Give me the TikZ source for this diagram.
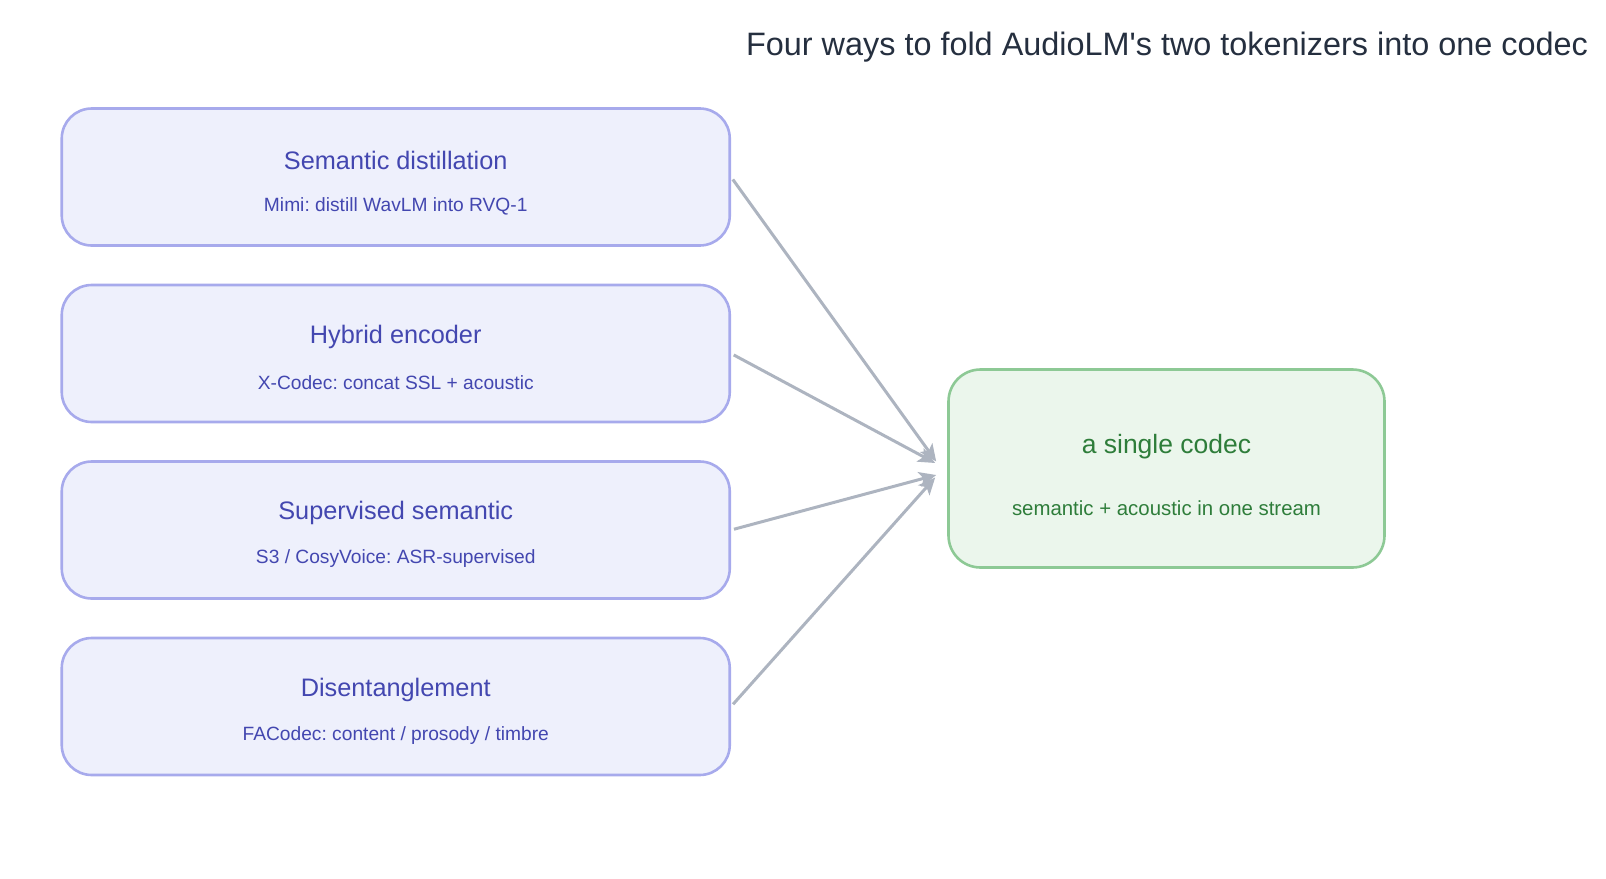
\documentclass[tikz,border=0pt]{standalone}
\usepackage{fontspec}
\setmainfont{Liberation Sans}[Ligatures=TeXOff]
\usetikzlibrary{arrows.meta}
\definecolor{bfill}{HTML}{EEF0FC}
\definecolor{bline}{HTML}{A7AAEC}
\definecolor{btext}{HTML}{4347B0}
\definecolor{gfill}{HTML}{EBF6EC}
\definecolor{gline}{HTML}{8DC995}
\definecolor{gtext}{HTML}{2E7D3A}
\definecolor{arr}{HTML}{ADB4C0}
\definecolor{ttl}{HTML}{252F3F}
\frenchspacing
\tikzset{
  srcbox/.style={draw=bline, fill=bfill, line width=2.6pt, rounded corners=30pt, minimum width=668pt, minimum height=137pt, inner sep=0pt},
  dstbox/.style={draw=gline, fill=gfill, line width=2.6pt, rounded corners=32pt, minimum width=436pt, minimum height=198pt, inner sep=0pt},
  btitle/.style={text=btext, font=\fontsize{25.3}{28}\selectfont, inner sep=0pt},
  bsub/.style={text=btext, font=\fontsize{19.2}{22}\selectfont, inner sep=0pt},
  gtitle/.style={text=gtext, font=\fontsize{26.5}{30}\selectfont, inner sep=0pt},
  gsub/.style={text=gtext, font=\fontsize{20.4}{24}\selectfont, inner sep=0pt},
  conn/.style={draw=arr, line width=3pt, -{Stealth[length=17pt,width=15pt,inset=4pt]}, shorten <=3pt},
}
\begin{document}
\begin{tikzpicture}[x=1pt,y=1pt]
\useasboundingbox (0,0) rectangle (1606,-878);
\node[text=ttl, font=\fontsize{32.4}{36}\selectfont, inner sep=0pt] (title) at (1167,-47) {Four ways to fold AudioLM's two tokenizers into one codec};

\node[srcbox] (b1) at (395.75,-177) {};
\node[srcbox] (b2) at (395.75,-353.5) {};
\node[srcbox] (b3) at (395.75,-530) {};
\node[srcbox] (b4) at (395.75,-706.5) {};

\node[btitle] (t1) at ([yshift=17pt]b1.center) {Semantic distillation};
\node[bsub] (s1) at ([yshift=-29pt]b1.center) {Mimi: distill WavLM into RVQ-1};
\node[btitle] (t2) at ([yshift=17pt]b2.center) {Hybrid encoder};
\node[bsub] (s2) at ([yshift=-29pt]b2.center) {X-Codec: concat SSL + acoustic};
\node[btitle] (t3) at ([yshift=17pt]b3.center) {Supervised semantic};
\node[bsub] (s3) at ([yshift=-29pt]b3.center) {S3 / CosyVoice: ASR-supervised};
\node[btitle] (t4) at ([yshift=17pt]b4.center) {Disentanglement};
\node[bsub] (s4) at ([yshift=-29pt]b4.center) {FACodec: content / prosody / timbre};

\node[dstbox] (g) at (1166.5,-468.5) {};
\node[gtitle] (gt) at ([yshift=22pt]g.center) {a single codec};
\node[gsub] (gs) at ([yshift=-39.5pt]g.center) {semantic + acoustic in one stream};

\draw[conn] (b1.east) -- ([xshift=-11pt,yshift=7pt]g.west);
\draw[conn] (b2.east) -- ([xshift=-12pt,yshift=5.5pt]g.west);
\draw[conn] (b3.east) -- ([xshift=-11pt,yshift=-6.5pt]g.west);
\draw[conn] (b4.east) -- ([xshift=-12pt,yshift=-9pt]g.west);
\end{tikzpicture}
\end{document}
